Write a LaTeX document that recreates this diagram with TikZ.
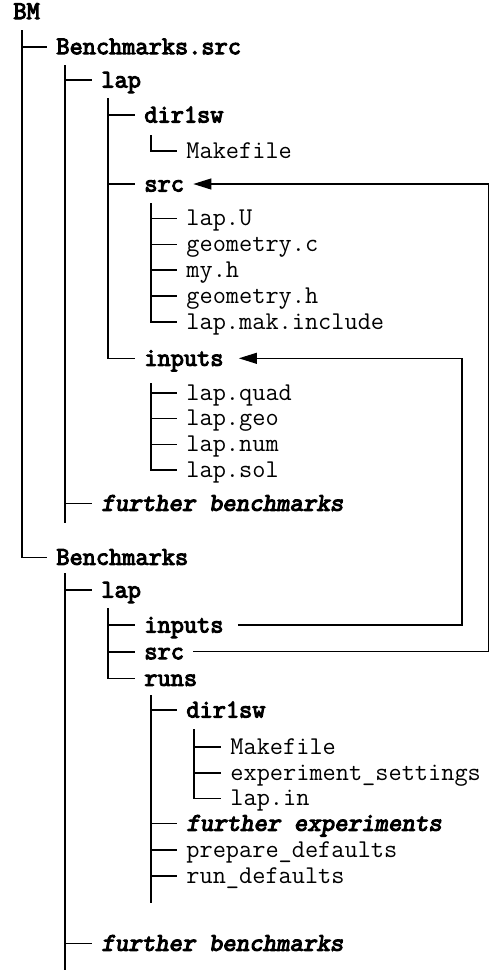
\documentclass[tikz,border=0pt]{standalone}
\usepackage{fontspec}
\setmonofont{Latin Modern Mono}[
  BoldFont={Latin Modern Mono}, BoldFeatures={FakeBold=4},
  BoldItalicFont={Latin Modern Mono Slanted}, BoldItalicFeatures={FakeBold=4}]
\usetikzlibrary{arrows.meta}

\begin{document}
\begin{tikzpicture}[x=0.5pt, y=-0.5pt,
  every node/.style={anchor=west, inner xsep=4.5pt, inner ysep=0pt,
    text height=0.75em, text depth=0pt, font=\ttfamily\fontsize{12.8}{14}\selectfont},
  dirnode/.style={font=\ttfamily\fontsize{12.8}{14}\selectfont\bfseries},
  morenode/.style={font=\ttfamily\fontsize{12.8}{14}\selectfont\bfseries\itshape},
  branch/.style={line width=0.8pt},
  link/.style={line width=0.55pt, -{Triangle[length=9pt,width=5.5pt]}}]
\useasboundingbox (0,0) rectangle (494,970);

\node[dirnode] (bm) at (4, 11.5) {BM};
\node[dirnode] (bsrc) at (47, 46.7) {Benchmarks.src};
\node[dirnode] (lap1) at (92, 80) {lap};
\node[dirnode] (dir1) at (135, 115) {dir1sw};
\node (mk1) at (177, 150.7) {Makefile};
\node[dirnode] (src1) at (135, 184) {src};
\node (lapu) at (177, 218.3) {lap.U};
\node (geoc) at (177, 244.3) {geometry.c};
\node (myh) at (177, 270) {my.h};
\node (geoh) at (177, 296) {geometry.h};
\node (lapmak) at (177, 322) {lap.mak.include};
\node[dirnode] (inp1) at (135, 358.3) {inputs};
\node (quad) at (177, 392.7) {lap.quad};
\node (geo) at (177, 418.3) {lap.geo};
\node (num) at (177, 444.3) {lap.num};
\node (sol) at (177, 470) {lap.sol};
\node[morenode] (fb1) at (92, 503.3) {further benchmarks};

\node[dirnode] (bench) at (47, 557.3) {Benchmarks};
\node[dirnode] (lap2) at (92, 590) {lap};
\node[dirnode] (inp2) at (135, 625) {inputs};
\node[dirnode] (src2) at (135, 651.7) {src};
\node[dirnode] (runs) at (135, 678.3) {runs};
\node[dirnode] (dir2) at (177, 710) {dir1sw};
\node (mk2) at (221, 746.7) {Makefile};
\node (exps) at (221, 772.7) {experiment\_settings};
\node (lapin) at (221, 798.3) {lap.in};
\node[morenode] (fexp) at (177, 823.3) {further experiments};
\node (prep) at (177, 850) {prepare\_defaults};
\node (rund) at (177, 876) {run\_defaults};
\node[morenode] (fb2) at (92, 943.3) {further benchmarks};

\coordinate (t0) at (22, 30);
\coordinate (t1) at (65, 65);
\coordinate (e1) at (65, 523.3);
\coordinate (t2) at (108, 98.3);
\coordinate (t3) at (151, 135);
\coordinate (t4) at (151, 203);
\coordinate (t5) at (151, 383.3);
\coordinate (t6) at (65, 573.3);
\coordinate (e6) at (65, 970);
\coordinate (t7) at (108, 608.3);
\coordinate (t8) at (151, 695);
\coordinate (e8) at (151, 903.3);
\coordinate (t9) at (194, 729.3);
\coordinate (ci) at (462, 358.3);
\coordinate (co) at (488.3, 184);

\draw[branch] (t0) |- (bsrc.west);
\draw[branch] (t0) |- (bench.west);
\draw[branch] (t1) |- (lap1.west);
\draw[branch] (t1) |- (fb1.west);
\draw[branch] (t1) -- (e1);
\draw[branch] (t2) |- (dir1.west);
\draw[branch] (t2) |- (src1.west);
\draw[branch] (t2) |- (inp1.west);
\draw[branch] (t3) |- (mk1.west);
\foreach \f in {lapu, geoc, myh, geoh, lapmak}
  \draw[branch] (t4) |- (\f.west);
\foreach \f in {quad, geo, num, sol}
  \draw[branch] (t5) |- (\f.west);

\draw[branch] (t6) |- (lap2.west);
\draw[branch] (t6) |- (fb2.west);
\draw[branch] (t6) -- (e6);
\foreach \f in {inp2, src2, runs}
  \draw[branch] (t7) |- (\f.west);
\foreach \f in {dir2, fexp, prep, rund}
  \draw[branch] (t8) |- (\f.west);
\draw[branch] (t8) -- (e8);
\foreach \f in {mk2, exps, lapin}
  \draw[branch] (t9) |- (\f.west);

\draw[link, shorten <=2.5pt, shorten >=3pt] (inp2.east) -| (ci) -- (inp1.east);
\draw[link] (src2.east) -| (co) -- (src1.east);

\end{tikzpicture}
\end{document}
